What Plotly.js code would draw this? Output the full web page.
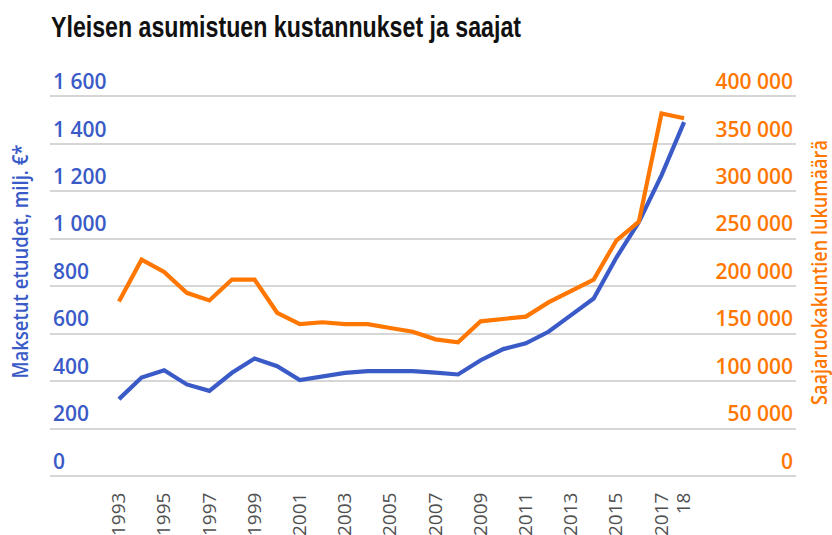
<!DOCTYPE html>
<html>
<head>
<meta charset="utf-8">
<script src="https://cdn.plot.ly/plotly-3.0.1.min.js"></script>
<style>
html,body{margin:0;padding:0;background:#fff;}
#chart{width:832px;height:535px;}
</style>
</head>
<body>
<div id="chart"></div>
<script>
// Data
const years = [1993,1994,1995,1996,1997,1998,1999,2000,2001,2002,2003,2004,2005,2006,2007,2008,2009,2010,2011,2012,2013,2014,2015,2016,2017,2018];
const costs = [324,415,446,386,359,435,495,463,404,418,435,442,442,442,436,428,488,535,559,608,678,748,920,1071,1267,1492];
const households = [184000,228000,215000,193000,185000,207000,207000,172000,160000,162000,160000,160000,156000,152000,144000,141000,163000,165000,168000,183000,195000,207000,248000,268000,382000,377000];
const xTickVals = [1993,1995,1997,1999,2001,2003,2005,2007,2009,2011,2013,2015,2017,2018];
const xTickText = ["1993","1995","1997","1999","2001","2003","2005","2007","2009","2011","2013","2015","2017","18"];
const leftTickVals = [0,200,400,600,800,1000,1200,1400,1600];
const rightTickVals = [0,50000,100000,150000,200000,250000,300000,350000,400000];
const titleText = "Yleisen asumistuen kustannukset ja saajat";
const leftTitle = "Maksetut etuudet, milj. €*";
const rightTitle = "Saajaruokakuntien lukumäärä";

const BLUE = "#3a5bc7";
const ORANGE = "#ff7700";
const GRID = "#d6d6d6";
const sansFont = "'Liberation Sans', Arial, sans-serif";
const openFont = "'Open Sans', sans-serif";

const traces = [
  {x: years, y: households, yaxis: "y2", type: "scatter", mode: "lines",
   line: {color: ORANGE, width: 4.2}, hoverinfo: "skip"},
  {x: years, y: costs, yaxis: "y", type: "scatter", mode: "lines",
   line: {color: BLUE, width: 4.2}, hoverinfo: "skip"}
];

// plot: bottom (value 0) at y=476px, 0.2375 px per unit on left axis
const leftMax = 1800, rightMax = 450000;
const plotH = leftMax * 0.2375;

const layout = {
  width: 832, height: 535,
  margin: {l: 50, r: 36, t: 476 - plotH, b: 59, autoexpand: false},
  paper_bgcolor: "#fff", plot_bgcolor: "#fff",
  showlegend: false,
  separators: ", ",
  title: {text: titleText, x: 51/832, xanchor: "left", xref: "container",
          y: 1 - 17/535, yanchor: "top", yref: "container",
          font: {family: sansFont, size: 29, weight: 700, color: "#111"}},
  xaxis: {
    range: [1989.95, 2022.95], showgrid: false, zeroline: false, showline: false,
    tickmode: "array", tickvals: xTickVals, ticktext: xTickText, tickangle: -90,
    ticks: "outside", ticklen: 8, tickcolor: "rgba(0,0,0,0)",
    tickfont: {family: openFont, size: 19, color: "#505050"},
    automargin: false
  },
  yaxis: {
    range: [0, leftMax], tickmode: "array", tickvals: leftTickVals,
    tickformat: ",d",
    showgrid: true, gridcolor: GRID, gridwidth: 2,
    zeroline: true, zerolinecolor: GRID, zerolinewidth: 2, showline: false,
    ticklabelposition: "inside top", ticks: "",
    tickfont: {family: openFont, size: 21, weight: 600, color: BLUE},
    automargin: false
  },
  yaxis2: {
    range: [0, rightMax], tickmode: "array", tickvals: rightTickVals,
    tickformat: ",d",
    overlaying: "y", side: "right",
    showgrid: false, zeroline: false, showline: false,
    ticklabelposition: "inside top", ticks: "",
    tickfont: {family: openFont, size: 21, weight: 600, color: ORANGE},
    automargin: false
  },
  annotations: [
    {text: leftTitle, xref: "paper", yref: "paper", x: (20-50)/746, y: (476-262)/plotH,
     xanchor: "center", yanchor: "middle", textangle: -90, showarrow: false,
     font: {family: openFont, size: 21, weight: 600, color: BLUE}},
    {text: rightTitle, xref: "paper", yref: "paper", x: (819-50)/746, y: (476-272)/plotH,
     xanchor: "center", yanchor: "middle", textangle: -90, showarrow: false,
     font: {family: openFont, size: 21, weight: 600, color: ORANGE}}
  ]
};

Plotly.newPlot("chart", traces, layout, {staticPlot: true, displayModeBar: false}).then(function(){
  // condense titles to match the narrow typeface of the original
  const t = document.querySelector(".gtitle");
  if (t) { t.setAttribute("textLength", "470"); t.setAttribute("lengthAdjust", "spacingAndGlyphs"); }
  const ann = document.querySelectorAll(".annotation-text");
  const lens = [234, 265];
  ann.forEach(function(el, i){
    el.setAttribute("textLength", String(lens[i]));
    el.setAttribute("lengthAdjust", "spacingAndGlyphs");
  });
});
</script>
</body>
</html>
